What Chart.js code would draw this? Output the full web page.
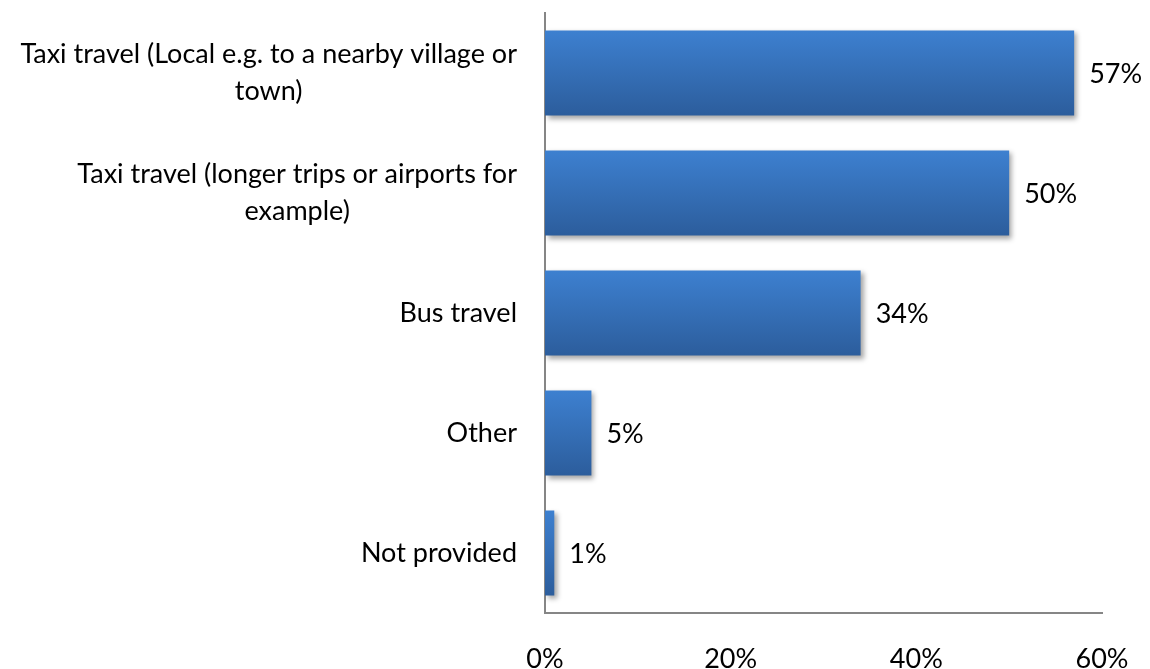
<!DOCTYPE html>
<html>
<head>
<meta charset="utf-8">
<script src="https://cdn.jsdelivr.net/npm/chart.js@4.4.1/dist/chart.umd.min.js"></script>
<style>
  html, body { margin: 0; padding: 0; background: #fff; }
  #wrap { width: 1150px; height: 669px; }
</style>
</head>
<body>
<div id="wrap"><canvas id="chart" width="1150" height="669"></canvas></div>
<script>
const categories = [
  ["Taxi travel (Local e.g. to a nearby village or", "town)"],
  ["Taxi travel (longer trips or airports for", "example)"],
  "Bus travel",
  "Other",
  "Not provided"
];
const values = [57, 50, 34, 5, 1];
const tickLabels = ["0%", "20%", "40%", "60%"];

const FONT = "Lato, 'Open Sans', sans-serif";

// Vertical blue gradient for each bar (lighter on top)
function barFill(c) {
  const chart = c.chart;
  if (!chart.chartArea || !chart.scales.y) return "#3670b8";
  const y = chart.scales.y.getPixelForValue(c.dataIndex);
  const half = 42.6;
  const g = chart.ctx.createLinearGradient(0, y - half, 0, y + half);
  g.addColorStop(0, "#3d80d0");
  g.addColorStop(1, "#2c5d9c");
  return g;
}

// Soft drop shadow under the bars
const shadowPlugin = {
  id: "shadow",
  beforeDatasetDraw(chart) {
    const ctx = chart.ctx;
    ctx.save();
    ctx.shadowColor = "rgba(0,0,0,0.35)";
    ctx.shadowBlur = 5;
    ctx.shadowOffsetX = 3;
    ctx.shadowOffsetY = 3;
  },
  afterDatasetDraw(chart) {
    chart.ctx.restore();
  }
};

// Category labels: block right-aligned to the axis, lines centred in the block
const categoryLabels = {
  id: "categoryLabels",
  afterDraw(chart) {
    const ctx = chart.ctx;
    const yScale = chart.scales.y;
    const right = chart.chartArea.left - 28;
    const lh = 37;
    ctx.save();
    ctx.font = "27px " + FONT;
    ctx.fillStyle = "#000";
    ctx.textAlign = "center";
    ctx.textBaseline = "middle";
    categories.forEach((lab, i) => {
      const lines = Array.isArray(lab) ? lab : [lab];
      const w = Math.max(...lines.map(l => ctx.measureText(l).width));
      const cx = right - w / 2;
      const yc = yScale.getPixelForValue(i);
      lines.forEach((l, k) => {
        ctx.fillText(l, cx, yc + (k - (lines.length - 1) / 2) * lh);
      });
    });
    ctx.restore();
  }
};

// Value labels right of each bar
const valueLabels = {
  id: "valueLabels",
  afterDatasetsDraw(chart) {
    const ctx = chart.ctx;
    const meta = chart.getDatasetMeta(0);
    ctx.save();
    ctx.font = "27px " + FONT;
    ctx.fillStyle = "#000";
    ctx.textAlign = "left";
    ctx.textBaseline = "middle";
    meta.data.forEach((bar, i) => {
      ctx.fillText(values[i] + "%", bar.x + 15, bar.y + 1);
    });
    ctx.restore();
  }
};

const ctx = document.getElementById("chart").getContext("2d");
new Chart(ctx, {
  type: "bar",
  data: {
    labels: categories,
    datasets: [{
      data: values,
      backgroundColor: barFill,
      borderWidth: 0,
      barPercentage: 0.71,
      categoryPercentage: 1
    }]
  },
  options: {
    indexAxis: "y",
    responsive: false,
    animation: false,
    layout: { padding: { top: 13, right: 48, bottom: 0, left: 0 } },
    plugins: { legend: { display: false }, tooltip: { enabled: false } },
    scales: {
      x: {
        min: 0,
        max: 60,
        afterFit: s => { s.height = 56; s.paddingLeft = 0; s.paddingRight = 0; },
        afterBuildTicks: s => {
          s.ticks = tickLabels.map(t => ({ value: parseInt(t) }));
        },
        grid: { display: false, drawTicks: false },
        border: { display: true, color: "#868686", width: 2 },
        ticks: {
          padding: 30,
          color: "#000",
          font: { family: FONT, size: 27 },
          callback: v => v + "%"
        }
      },
      y: {
        afterFit: s => { s.width = 545; s.paddingTop = 0; s.paddingBottom = 0; },
        grid: { display: false, drawTicks: false },
        border: { display: true, color: "#868686", width: 2 },
        ticks: { display: false }
      }
    }
  },
  plugins: [shadowPlugin, valueLabels, categoryLabels]
});
</script>
</body>
</html>
